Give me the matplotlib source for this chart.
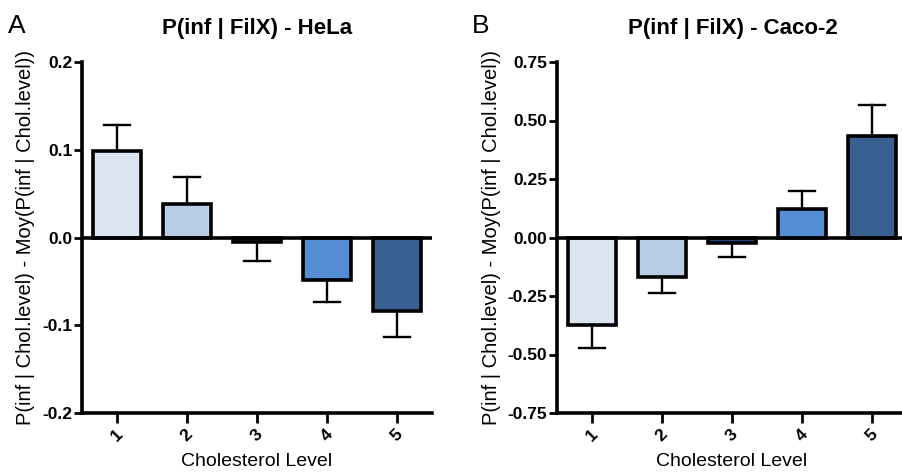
import matplotlib.pyplot as plt

levels = [1, 2, 3, 4, 5]
tick_labels = ["1", "2", "3", "4", "5"]
colors = ["#dce6f2", "#b9cde5", "#1f497d", "#558ed5", "#386192"]

hela_mean = [0.099, 0.0385, -0.005, -0.0485, -0.084]
hela_err = [0.029, 0.0305, 0.022, 0.025, 0.029]

caco_mean = [-0.375, -0.167, -0.023, 0.12, 0.433]
caco_err = [0.099, 0.072, 0.059, 0.08, 0.135]

plt.rcParams['font.family'] = ['Liberation Sans', 'DejaVu Sans']

fig = plt.figure(figsize=(9.02, 4.72), dpi=100)
axA = fig.add_axes([82/902, 1-413/472, 350/902, 351/472])
axB = fig.add_axes([557/902, 1-413/472, 350/902, 351/472])

ylabel = "P(inf | Chol.level) - Moy(P(inf | Chol.level))"


def draw(ax, means, errs, ylim, yticks, yticklabels, title, letter, letter_x):
    for x, m, e, c in zip(levels, means, errs, colors):
        ax.bar(x, m, width=0.69, color=c, edgecolor="black", linewidth=2.6, zorder=2)
        top = m + e if m >= 0 else m - e
        ax.plot([x, x], [m, top], color="black", lw=1.7, zorder=1)
        ax.plot([x - 0.18, x + 0.18], [top, top], color="black", lw=1.7, zorder=1)
    ax.axhline(0, color="black", lw=2.6, zorder=3)
    ax.set_xlim(0.5, 5.5)
    ax.set_ylim(*ylim)
    ax.set_yticks(yticks)
    ax.set_yticklabels(yticklabels, fontweight="bold", fontsize=12.5)
    ax.set_xticks(levels)
    ax.set_xticklabels(tick_labels, rotation=45, fontweight="bold", fontsize=12.5)
    for s in ["top", "right"]:
        ax.spines[s].set_visible(False)
    for s in ["left", "bottom"]:
        ax.spines[s].set_linewidth(2.6)
    ax.tick_params(axis="y", width=2, length=6, direction="out", pad=1)
    ax.tick_params(axis="x", width=2, length=7, direction="out", pad=3)
    ax.set_xlabel("Cholesterol Level", fontsize=14, labelpad=6)
    ax.set_ylabel(ylabel, fontsize=14.5, labelpad=5)
    fig.text(letter_x, 1 - 26/472, letter, fontsize=19, va="center", ha="left")


draw(axA, hela_mean, hela_err, (-0.2, 0.2), [-0.2, -0.1, 0.0, 0.1, 0.2],
     ["-0.2", "-0.1", "0.0", "0.1", "0.2"], "P(inf | FilX) - HeLa", "A", 8/902)
draw(axB, caco_mean, caco_err, (-0.75, 0.75), [-0.75, -0.5, -0.25, 0.0, 0.25, 0.5, 0.75],
     ["-0.75", "-0.50", "-0.25", "0.00", "0.25", "0.50", "0.75"],
     "P(inf | FilX) - Caco-2", "B", 472/902)
axA.set_title("P(inf | FilX) - HeLa", fontweight="bold", fontsize=16, pad=20,
              x=(257 - 82) / 350)
axB.set_title("P(inf | FilX) - Caco-2", fontweight="bold", fontsize=16, pad=20,
              x=(733 - 557) / 350)

fig.savefig("out.png", dpi=100)
